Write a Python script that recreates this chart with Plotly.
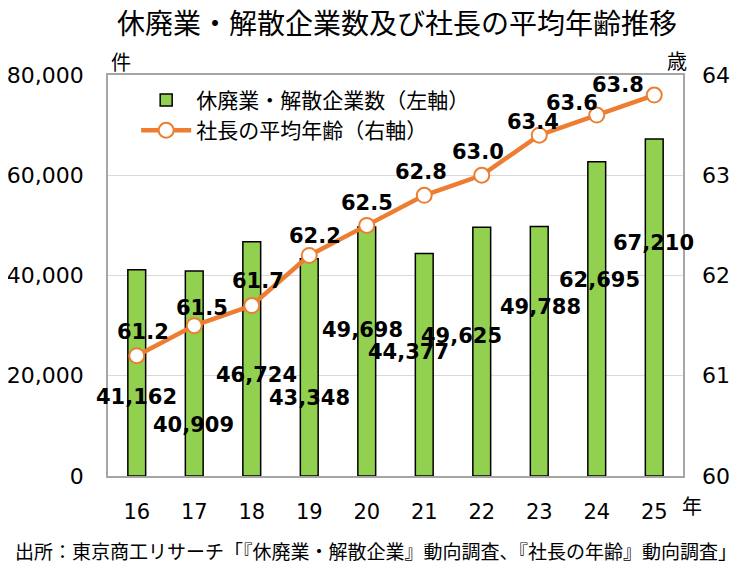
import plotly.graph_objects as go

years = ["16", "17", "18", "19", "20", "21", "22", "23", "24", "25"]
closures = [41162, 40909, 46724, 43348, 49698, 44377, 49625, 49788, 62695, 67210]
ages = [61.2, 61.5, 61.7, 62.2, 62.5, 62.8, 63.0, 63.4, 63.6, 63.8]
closure_labels = ["41,162", "40,909", "46,724", "43,348", "49,698", "44,377", "49,625", "49,788", "62,695", "67,210"]
age_labels = ["61.2", "61.5", "61.7", "62.2", "62.5", "62.8", "63.0", "63.4", "63.6", "63.8"]
left_ticks = [0, 20000, 40000, 60000, 80000]
left_tick_text = ["0", "20,000", "40,000", "60,000", "80,000"]
right_ticks = [60, 61, 62, 63, 64]

# label offsets (px) relative to the data point
bar_lab_dx = [0, -1, 5, 0, -4, -16, -20, 1, 3, -1]
bar_lab_dy = [-127, -154, -133, -139, -103, -98, -109, -81, -118, -104]
age_lab_dx = [6, 8, 6, 6, 0, -3, -4, -6, -25, -36]
age_lab_dy = [24, 18, 25, 19, 22, 23, 23, 13, 12, 10]

GREEN = "#92D050"
ORANGE = "#ED7D31"
CJK = "Noto Sans CJK JP"
LAT = "DejaVu Sans, Noto Sans CJK JP"

fig = go.Figure()
fig.add_trace(go.Bar(
    x=years, y=closures, name="休廃業・解散企業数（左軸）",
    marker=dict(color=GREEN, line=dict(color="#000000", width=1.5)),
    width=0.31, yaxis="y",
))
fig.add_trace(go.Scatter(
    x=years, y=ages, name="社長の平均年齢（右軸）", mode="lines+markers",
    line=dict(color=ORANGE, width=4.5),
    marker=dict(symbol="circle", size=15, color="#FFFFFF", line=dict(color=ORANGE, width=2)),
    yaxis="y2",
))

annotations = []
for i in range(len(years)):
    annotations.append(dict(
        x=i, y=closures[i], xref="x", yref="y", text=closure_labels[i],
        showarrow=False, xshift=bar_lab_dx[i], yshift=bar_lab_dy[i],
        xanchor="center", yanchor="middle",
        font=dict(family=LAT, size=21, color="#000000", weight="bold"),
    ))
    annotations.append(dict(
        x=i, y=ages[i], xref="x", yref="y2", text=age_labels[i],
        showarrow=False, xshift=age_lab_dx[i], yshift=age_lab_dy[i],
        xanchor="center", yanchor="middle",
        font=dict(family=LAT, size=21, color="#000000", weight="bold"),
    ))

annotations += [
    dict(text="休廃業・解散企業数及び社長の平均年齢推移", xref="paper", yref="paper",
         x=0.503, y=1.0, yshift=53, xanchor="center", yanchor="middle", showarrow=False,
         font=dict(family=CJK, size=28, color="#000000")),
    dict(text="件", xref="paper", yref="paper", x=0.0, y=1.0, xshift=13, yshift=14,
         xanchor="center", yanchor="middle",
         showarrow=False, font=dict(family=CJK, size=20, color="#000000")),
    dict(text="歳", xref="paper", yref="paper", x=1.0, y=1.0, xshift=-6, yshift=15,
         xanchor="center", yanchor="middle",
         showarrow=False, font=dict(family=CJK, size=20, color="#000000")),
    dict(text="年", xref="paper", yref="paper", x=1.0, y=0.0, xshift=9, yshift=-29,
         xanchor="center", yanchor="middle",
         showarrow=False, font=dict(family=CJK, size=20, color="#000000")),
    dict(text="出所：東京商工リサーチ「『休廃業・解散企業』動向調査、『社長の年齢』動向調査」",
         xref="paper", yref="paper", x=0.466, y=0.0, yshift=-74,
         xanchor="center", yanchor="middle",
         showarrow=False, font=dict(family=CJK, size=19, color="#000000")),
]

fig.update_layout(
    width=742, height=560,
    margin=dict(l=100, r=67, t=67, b=92, autoexpand=False),
    paper_bgcolor="#FFFFFF", plot_bgcolor="#FFFFFF",
    showlegend=True,
    legend=dict(x=0.049, y=0.988, xanchor="left", yanchor="top",
                bgcolor="rgba(0,0,0,0)", font=dict(family=CJK, size=21, color="#000000"),
                itemwidth=50, tracegroupgap=0),
    xaxis=dict(type="category", range=[-0.5, 9.5], showline=True, mirror=True,
               linecolor="#A6A6A6", linewidth=1.5, ticks="", ticklabelstandoff=16,
               automargin=False,
               tickfont=dict(family=LAT, size=21, color="#000000")),
    yaxis=dict(range=[0, 80000], tickvals=left_ticks, ticktext=left_tick_text,
               showline=True, mirror=True, linecolor="#A6A6A6", linewidth=1.5,
               showgrid=True, gridcolor="#D9D9D9", gridwidth=1, zeroline=False,
               ticks="", ticklabelstandoff=18, automargin=False,
               tickfont=dict(family=LAT, size=22, color="#000000")),
    yaxis2=dict(range=[60, 64], tickvals=right_ticks, overlaying="y", side="right",
                showgrid=False, zeroline=False, showline=False, ticks="",
                ticklabelstandoff=18, automargin=False,
                tickfont=dict(family=LAT, size=22, color="#000000")),
    annotations=annotations,
)

fig.write_html("out.html")
